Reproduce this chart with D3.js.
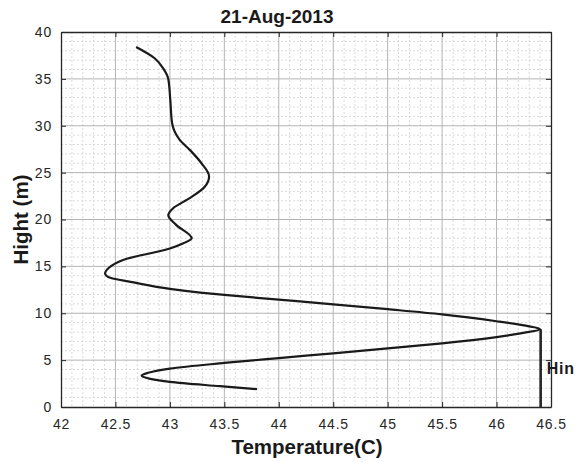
<!DOCTYPE html>
<html>
<head>
<meta charset="utf-8">
<script src="https://cdn.jsdelivr.net/npm/d3@7"></script>
<style>
  html, body { margin: 0; padding: 0; background: #fff; }
  svg { display: block; font-family: "Liberation Sans", Arial, Helvetica, sans-serif; }
</style>
</head>
<body>
<svg id="chart" width="576" height="462"></svg>
<script>
// Temperature profile, from the top of the column down to the lowest sample
const temperature = [42.69, 42.86, 42.94, 42.985, 43.004, 43.02, 43.09, 43.185, 43.29, 43.36,
  43.32, 43.185, 43.03, 42.985, 43.06, 43.2, 43.123, 43.0, 42.57, 42.44, 42.405, 42.46, 42.64,
  43.0, 43.28, 43.5, 44.0, 44.5, 45.0, 45.5, 46.0, 46.3, 46.40, 46.22, 46.0, 45.5, 45.0, 44.5,
  44.0, 43.5, 43.0, 42.8, 42.74, 42.82, 43.0, 43.46, 43.8];
const height = [38.4, 37.2, 36.1, 35.0, 32.7, 30.3, 28.5, 27.4, 26.0, 24.6,
  23.5, 22.3, 21.2, 20.45, 19.4, 18.0, 17.46, 16.9, 15.68, 14.85, 14.25, 13.75, 13.35,
  12.6, 12.2, 11.95, 11.45, 10.95, 10.43, 9.88, 9.15, 8.6, 8.3, 7.86, 7.45, 6.78, 6.25, 5.73,
  5.22, 4.7, 4.1, 3.65, 3.35, 3.0, 2.68, 2.22, 1.9];

// Inversion-height marker
const hinTemp = [46.405, 46.405];
const hinHeight = [8.3, 0];
const hinLabel = "Hin";

const xTicks = [42, 42.5, 43, 43.5, 44, 44.5, 45, 45.5, 46, 46.5];
const yTicks = [0, 5, 10, 15, 20, 25, 30, 35, 40];
const titleText = "21-Aug-2013";
const xLabel = "Temperature(C)";
const yLabel = "Hight (m)";

const margin = { left: 61, top: 32, right: 25, bottom: 55 };
const W = 576, H = 462;
const iw = W - margin.left - margin.right;
const ih = H - margin.top - margin.bottom;

const svg = d3.select("#chart");
const g = svg.append("g").attr("transform", `translate(${margin.left},${margin.top})`);

const x = d3.scaleLinear().domain([42, 46.5]).range([0, iw]);
const y = d3.scaleLinear().domain([0, 40]).range([ih, 0]);

// minor grid (dotted)
const xMinor = d3.range(42, 46.5001, 0.1).filter(v => Math.abs(v * 2 - Math.round(v * 2)) > 1e-6);
const yMinor = d3.range(0, 40.001, 1).filter(v => v % 5 !== 0);
const minor = g.append("g").attr("stroke", "#dadada").attr("stroke-width", 1)
  .attr("stroke-dasharray", "2,2").attr("fill", "none");
minor.selectAll("line.vx").data(xMinor).join("line")
  .attr("x1", d => x(d)).attr("x2", d => x(d)).attr("y1", 0).attr("y2", ih);
minor.selectAll("line.hy").data(yMinor).join("line")
  .attr("x1", 0).attr("x2", iw).attr("y1", d => y(d)).attr("y2", d => y(d));

// major grid
const major = g.append("g").attr("stroke", "#b4b4b4").attr("stroke-width", 1);
major.selectAll("line.vx").data(xTicks.slice(1, -1)).join("line")
  .attr("x1", d => x(d)).attr("x2", d => x(d)).attr("y1", 0).attr("y2", ih);
major.selectAll("line.hy").data(yTicks.slice(1, -1)).join("line")
  .attr("x1", 0).attr("x2", iw).attr("y1", d => y(d)).attr("y2", d => y(d));

// axes
const axisColor = "#262626";
const xAxis = g.append("g").attr("transform", `translate(0,${ih})`)
  .call(d3.axisBottom(x).tickValues(xTicks).tickFormat(d3.format("~g")).tickSizeInner(-5).tickSizeOuter(0).tickPadding(12));
const yAxis = g.append("g")
  .call(d3.axisLeft(y).tickValues(yTicks).tickFormat(d3.format("~g")).tickSizeInner(-5).tickSizeOuter(0).tickPadding(9));
const xTop = g.append("g")
  .call(d3.axisTop(x).tickValues(xTicks).tickFormat("").tickSizeInner(-5).tickSizeOuter(0));
const yRight = g.append("g").attr("transform", `translate(${iw},0)`)
  .call(d3.axisRight(y).tickValues(yTicks).tickFormat("").tickSizeInner(-5).tickSizeOuter(0));
[xAxis, yAxis, xTop, yRight].forEach(a => {
  a.select(".domain").attr("stroke", axisColor).attr("stroke-width", 1.3);
  a.selectAll(".tick line").attr("stroke", axisColor);
  a.selectAll(".tick text").attr("fill", axisColor).attr("font-size", 14)
    .attr("letter-spacing", 0.8)
    .attr("font-family", "Liberation Sans, Arial, sans-serif");
});

// temperature profile: height decreases monotonically along the samples
const pts = temperature.map((t, i) => [t, height[i]]);
const line = d3.line().x(d => x(d[0])).y(d => y(d[1])).curve(d3.curveMonotoneY);
g.append("path").datum(pts).attr("d", line)
  .attr("fill", "none").attr("stroke", "#1a1a1a").attr("stroke-width", 2.2)
  .attr("stroke-linejoin", "round").attr("stroke-linecap", "butt");

// Hin marker line
const hinPts = hinTemp.map((t, i) => [t, hinHeight[i]]);
g.append("path").datum(hinPts).attr("d", d3.line().x(d => x(d[0])).y(d => y(d[1])))
  .attr("fill", "none").attr("stroke", "#262626").attr("stroke-width", 2.6);

g.append("text").attr("x", x(46.405) + 6).attr("y", y(3.5))
  .attr("font-size", 16).attr("font-weight", "bold").attr("letter-spacing", 0.8)
  .attr("fill", "#1a1a1a").text(hinLabel);

// title and axis labels
svg.append("text").attr("x", 277).attr("y", 23).attr("text-anchor", "middle")
  .attr("font-size", 19).attr("font-weight", "bold").attr("fill", "#1a1a1a").text(titleText);
svg.append("text").attr("x", 307).attr("y", 454).attr("text-anchor", "middle")
  .attr("font-size", 20.5).attr("font-weight", "bold").attr("fill", "#1a1a1a").text(xLabel);
svg.append("text").attr("transform", `translate(28,${margin.top + ih / 2}) rotate(-90)`)
  .attr("text-anchor", "middle")
  .attr("font-size", 20.5).attr("font-weight", "bold").attr("fill", "#1a1a1a").text(yLabel);
</script>
</body>
</html>
